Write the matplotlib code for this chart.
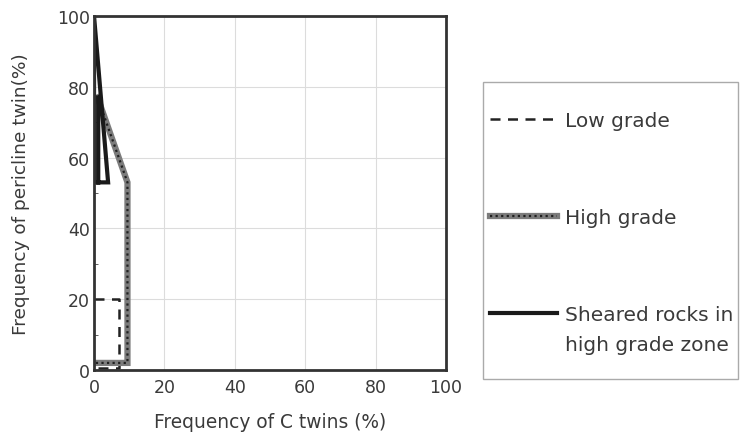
import matplotlib.pyplot as plt
from matplotlib.legend_handler import HandlerTuple, HandlerLine2D
from matplotlib.patches import Rectangle
from matplotlib.ticker import MultipleLocator

plt.rcParams['font.family'] = ['DejaVu Sans']

# polygon outlines (C twins %, pericline twins %)
low_x = [0, 7, 7, 0]
low_y = [20, 20, 0.5, 0.5]

high_x = [1, 9.5, 9.5, 0]
high_y = [77, 53, 2, 2]

sheared_x = [1.2, 1.2, 0, 0, 4, 1.2]
sheared_y = [77, 53, 53, 100, 53, 53]

ticks = [0, 20, 40, 60, 80, 100]
txt = '#3a3a3a'


class RaisedLine(HandlerLine2D):
    # puts the legend line next to the first line of a two-line label
    def __init__(self, shift, **kw):
        super().__init__(**kw)
        self.shift = shift

    def create_artists(self, legend, orig_handle, xdescent, ydescent, width, height, fontsize, trans):
        arts = super().create_artists(legend, orig_handle, xdescent, ydescent, width, height, fontsize, trans)
        for a in arts:
            a.set_ydata([y + self.shift for y in a.get_ydata()])
        return arts


fig = plt.figure(figsize=(7.48, 4.39), dpi=100)
ax = fig.add_axes([0.1257, 0.1549, 0.4706, 0.8064])

ax.grid(True, color='#dcdcdc', linewidth=0.8)
ax.set_axisbelow(True)

l1, = ax.plot(low_x, low_y, color='#222222', linewidth=1.8, linestyle=(0, (4, 3)))
h_bg, = ax.plot(high_x, high_y, color='#7c7c7c', linewidth=4.5, solid_joinstyle='miter')
h_fg, = ax.plot(high_x, high_y, color='#202020', linewidth=1.6, linestyle=(0, (1, 1.5)))
s1, = ax.plot(sheared_x, sheared_y, color='#1a1a1a', linewidth=3, solid_joinstyle='miter')

ax.set_xlim(0, 100)
ax.set_ylim(0, 100)
ax.set_xticks(ticks)
ax.set_yticks(ticks)
ax.yaxis.set_minor_locator(MultipleLocator(10))
ax.tick_params(which='both', direction='in', labelsize=12.5, labelcolor=txt, color='#444444')
ax.tick_params(which='major', length=0)
ax.tick_params(axis='x', which='major', pad=6)
ax.tick_params(axis='y', which='major', pad=3)
ax.tick_params(which='minor', length=3)
for sp in ax.spines.values():
    sp.set_linewidth(2)
    sp.set_color('#333333')

ax.set_xlabel('Frequency of C twins (%)', fontsize=13.4, color=txt, labelpad=11)
ax.set_ylabel('Frequency of pericline twin(%)', fontsize=13.3, color=txt, labelpad=19)

# legend box drawn separately so the padding can differ per side
fig.patches.append(Rectangle((0.646, 0.134), 0.341, 0.677, transform=fig.transFigure,
                             fill=False, edgecolor='#aaaaaa', linewidth=1))
leg = fig.legend([l1, (h_bg, h_fg), s1],
                 ['Low grade', 'High grade', 'Sheared rocks in\nhigh grade zone'],
                 handler_map={tuple: HandlerTuple(ndivide=1), s1: RaisedLine(12.5)},
                 loc='upper left', bbox_to_anchor=(0.655, 0.745),
                 fontsize=14.5, labelcolor=txt,
                 handlelength=3.33, handletextpad=0.4, labelspacing=3.88,
                 borderpad=0, borderaxespad=0, frameon=False)
for t in leg.get_texts():
    t.set_linespacing(1.74)

fig.savefig('out.png', dpi=100)
